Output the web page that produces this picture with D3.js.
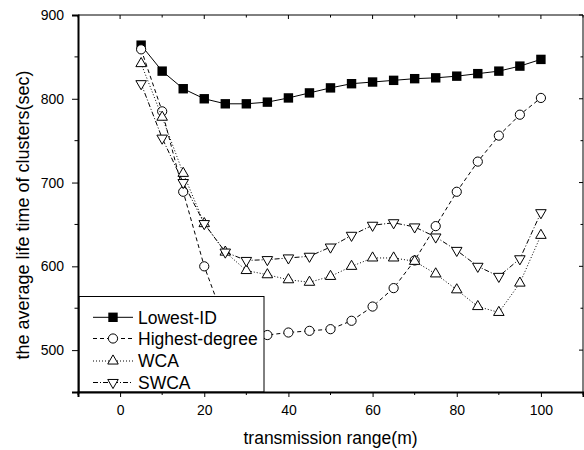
<!DOCTYPE html>
<html>
<head>
<meta charset="utf-8">
<script src="https://cdn.jsdelivr.net/npm/d3@7"></script>
<style>
  body { margin: 0; background: #fff; }
  svg { display: block; font-family: "Liberation Sans", Arial, sans-serif; }
</style>
</head>
<body>
<svg id="chart" width="584" height="450"></svg>
<script>
const ranges = [5, 10, 15, 20, 25, 30, 35, 40, 45, 50, 55, 60, 65, 70, 75, 80, 85, 90, 95, 100];
const lowestId = [864, 833, 812, 800, 794, 794, 796, 801, 807, 813, 818, 820, 822, 824, 825, 827, 830, 833, 839, 847];
const highestDegree = [859, 785, 689, 600, 532, 514, 518, 521, 523, 525, 535, 552, 574, 607, 648, 689, 725, 756, 781, 801];
const wca = [842, 778, 711, 651, 617, 595, 590, 584, 581, 588, 600, 610, 610, 606, 591, 572, 552, 545, 580, 637];
const swca = [818, 753, 700, 651, 617, 607, 608, 610, 612, 623, 637, 649, 652, 647, 635, 619, 600, 588, 609, 664];
const seriesNames = ["Lowest-ID", "Highest-degree", "WCA", "SWCA"];
const xTicks = [0, 20, 40, 60, 80, 100];
const yTicks = [500, 600, 700, 800, 900];

const svg = d3.select("#chart");
const plotLeft = 78, plotRight = 583, plotTop = 15, plotBottom = 392;

const x = d3.scaleLinear().domain([-10, 110]).range([plotLeft, plotRight]);
const y = d3.scaleLinear().domain([450, 900]).range([plotBottom, plotTop]);

const series = [
  { name: seriesNames[0], values: lowestId, dash: null, symbol: "square" },
  { name: seriesNames[1], values: highestDegree, dash: "4,3", symbol: "circle" },
  { name: seriesNames[2], values: wca, dash: "1,2", symbol: "up" },
  { name: seriesNames[3], values: swca, dash: "5,2,1,2", symbol: "down" },
];

const drawMarker = (g, kind, cx, cy) => {
  if (kind === "square") {
    g.append("rect").attr("x", cx - 4.7).attr("y", cy - 4.7)
      .attr("width", 9.4).attr("height", 9.4).attr("fill", "#000");
  } else if (kind === "circle") {
    g.append("circle").attr("cx", cx).attr("cy", cy).attr("r", 4.6)
      .attr("fill", "#fff").attr("stroke", "#000").attr("stroke-width", 1);
  } else {
    g.append("path")
      .attr("d", d3.symbol(d3.symbolTriangle, 48)())
      .attr("transform", "translate(" + cx + "," + cy + ")" + (kind === "down" ? " rotate(180)" : ""))
      .attr("fill", "#fff").attr("stroke", "#000").attr("stroke-width", 1);
  }
};

// frame (top & right thin)
svg.append("line").attr("x1", plotLeft).attr("x2", plotRight).attr("y1", plotTop).attr("y2", plotTop)
  .attr("stroke", "#000").attr("stroke-width", 1);
svg.append("line").attr("x1", plotRight).attr("x2", plotRight).attr("y1", plotTop).attr("y2", plotBottom)
  .attr("stroke", "#000").attr("stroke-width", 1);

// series
const line = d3.line().x((d) => x(d[0])).y((d) => y(d[1]));
series.forEach((s) => {
  const pts = ranges.map((r, i) => [r, s.values[i]]);
  svg.append("path")
    .attr("d", line(pts))
    .attr("fill", "none")
    .attr("stroke", "#000")
    .attr("stroke-width", 1)
    .attr("stroke-dasharray", s.dash);
  const g = svg.append("g");
  pts.forEach((p) => drawMarker(g, s.symbol, x(p[0]), y(p[1])));
});

// legend (opaque)
const legend = svg.append("g");
legend.append("rect").attr("x", 79).attr("y", 296.5).attr("width", 185).attr("height", plotBottom - 296.5)
  .attr("fill", "#fff").attr("stroke", "#000").attr("stroke-width", 1);
const legendRows = [317.3, 338.5, 361, 382.5];
series.forEach((s, i) => {
  const ly = legendRows[i];
  legend.append("line").attr("x1", 93).attr("x2", 133).attr("y1", ly).attr("y2", ly)
    .attr("stroke", "#000").attr("stroke-width", 1).attr("stroke-dasharray", s.dash);
  drawMarker(legend, s.symbol, 113, ly);
  legend.append("text").attr("x", 138).attr("y", ly + 6.2)
    .attr("font-size", "17.5px").text(s.name);
});

// bottom axis (outward), top ticks inward
const xAxis = d3.axisBottom(x).tickValues(xTicks).tickSize(5).tickPadding(8);
const gx = svg.append("g").attr("transform", "translate(0," + plotBottom + ")").call(xAxis);
gx.select(".domain").attr("stroke-width", 2);
gx.selectAll("text").attr("font-size", "14px").attr("font-family", "Liberation Sans, Arial, sans-serif");
const xMinor = d3.range(-10, 111, 20);
svg.append("g").selectAll("line").data(xMinor).enter().append("line")
  .attr("x1", (d) => x(d)).attr("x2", (d) => x(d)).attr("y1", plotBottom).attr("y2", plotBottom + 3)
  .attr("stroke", "#000");
svg.append("g").selectAll("line").data(xTicks.concat(xMinor)).enter().append("line")
  .attr("x1", (d) => x(d)).attr("x2", (d) => x(d))
  .attr("y1", plotTop).attr("y2", (d) => plotTop + (xTicks.includes(d) ? 4 : 2.5))
  .attr("stroke", "#000");

// left axis (outward), right ticks inward
const yAxis = d3.axisLeft(y).tickValues(yTicks).tickSize(6).tickPadding(8);
const gy = svg.append("g").attr("transform", "translate(" + plotLeft + ",0)").call(yAxis);
gy.select(".domain").attr("stroke-width", 2);
gy.selectAll("text").attr("font-size", "14px").attr("font-family", "Liberation Sans, Arial, sans-serif");
const yMinor = d3.range(450, 901, 100).filter((v) => v > 450);
svg.append("g").selectAll("line").data(yMinor).enter().append("line")
  .attr("x1", plotLeft - 3.5).attr("x2", plotLeft).attr("y1", (d) => y(d)).attr("y2", (d) => y(d))
  .attr("stroke", "#000");
svg.append("g").selectAll("line").data(yTicks.concat(yMinor)).enter().append("line")
  .attr("x1", (d) => plotRight - (yTicks.includes(d) ? 4 : 2.5)).attr("x2", plotRight)
  .attr("y1", (d) => y(d)).attr("y2", (d) => y(d))
  .attr("stroke", "#000");

// axis titles
svg.append("text").attr("x", (plotLeft + plotRight) / 2).attr("y", 444)
  .attr("text-anchor", "middle").attr("font-size", "17.5px").text("transmission range(m)");
svg.append("text").attr("transform", "translate(29,215) rotate(-90)")
  .attr("text-anchor", "middle").attr("font-size", "18px")
  .text("the average life time of clusters(sec)");
</script>
</body>
</html>
